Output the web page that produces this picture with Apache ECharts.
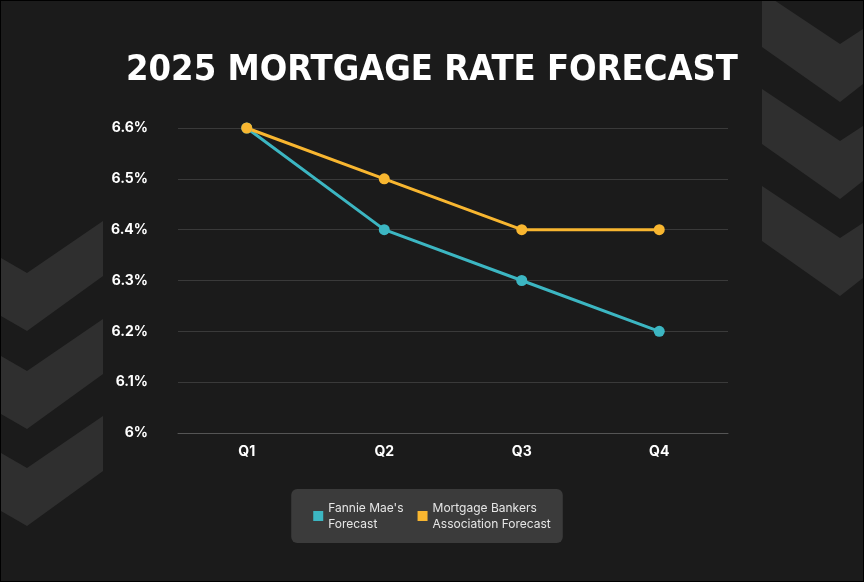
<!DOCTYPE html>
<html>
<head>
<meta charset="utf-8">
<script src="https://cdn.jsdelivr.net/npm/echarts@6/dist/echarts.min.js"></script>
<style>
  html, body { margin: 0; padding: 0; background: #fff; }
  #chart { width: 862px; height: 580px; border: 1px solid #000; }
</style>
</head>
<body>
<div id="chart"></div>
<script>
// 数据
const quarters = ['Q1', 'Q2', 'Q3', 'Q4'];
const fannieMae = [6.6, 6.4, 6.3, 6.2];
const mba = [6.6, 6.5, 6.4, 6.4];
const seriesNames = ["Fannie Mae's\nForecast", 'Mortgage Bankers\nAssociation Forecast'];

// 背景箭头
function chevron(pts) {
  return { type: 'polygon', silent: true, z: -1, shape: { points: pts }, style: { fill: '#2f2f2f' } };
}
const shapes = [];
[220, 318, 415].forEach(y => shapes.push(chevron([
  [0, y + 37], [26, y + 52], [102, y], [102, y + 55], [26, y + 110], [0, y + 95]
])));
[-9, 88, 185].forEach(y => shapes.push(chevron([
  [761, y], [839, y + 52], [862, y + 37], [862, y + 92], [839, y + 110], [761, y + 55]
])));

let chart = echarts.init(document.getElementById('chart'));
chart.setOption({
  backgroundColor: '#1b1b1b',
  graphic: shapes,
  title: {
    text: '2025 MORTGAGE RATE FORECAST',
    left: 'center', top: 47,
    textStyle: {
      color: '#fff', fontSize: 36, fontWeight: 'bold',
      fontFamily: 'DejaVu Sans Condensed',
      textShadowColor: '#000', textShadowOffsetX: 2, textShadowOffsetY: 2
    }
  },
  grid: { left: 177, right: 135, top: 127, bottom: 148 },
  xAxis: {
    type: 'category',
    data: quarters,
    axisLine: { lineStyle: { color: '#555' } },
    axisTick: { show: false },
    axisLabel: { color: '#fff', fontWeight: 'bold', fontSize: 14, fontFamily: 'Inter', margin: 12 }
  },
  yAxis: {
    type: 'value', min: 6, max: 6.6, interval: 0.1,
    axisLabel: {
      color: '#fff', fontWeight: 'bold', fontSize: 14, fontFamily: 'Inter', margin: 30,
      formatter: v => (v === 6 ? '6' : v.toFixed(1)) + '%'
    },
    splitLine: { lineStyle: { color: '#3a3a3a' } }
  },
  legend: {
    bottom: 38, left: 'center',
    itemWidth: 10, itemHeight: 10, icon: 'rect',
    backgroundColor: '#3b3b3b', borderRadius: 6,
    padding: [11, 12, 11, 22], itemGap: 14,
    textStyle: { color: '#e6e6e6', fontSize: 12, fontFamily: 'Inter', lineHeight: 16 }
  },
  series: [
    { name: seriesNames[0], type: 'line', data: fannieMae, color: '#3cb6c2',
      symbol: 'circle', symbolSize: 11, lineStyle: { width: 3 } },
    { name: seriesNames[1], type: 'line', data: mba, color: '#f8b630',
      symbol: 'circle', symbolSize: 11, lineStyle: { width: 3 } }
  ]
});
</script>
</body>
</html>
